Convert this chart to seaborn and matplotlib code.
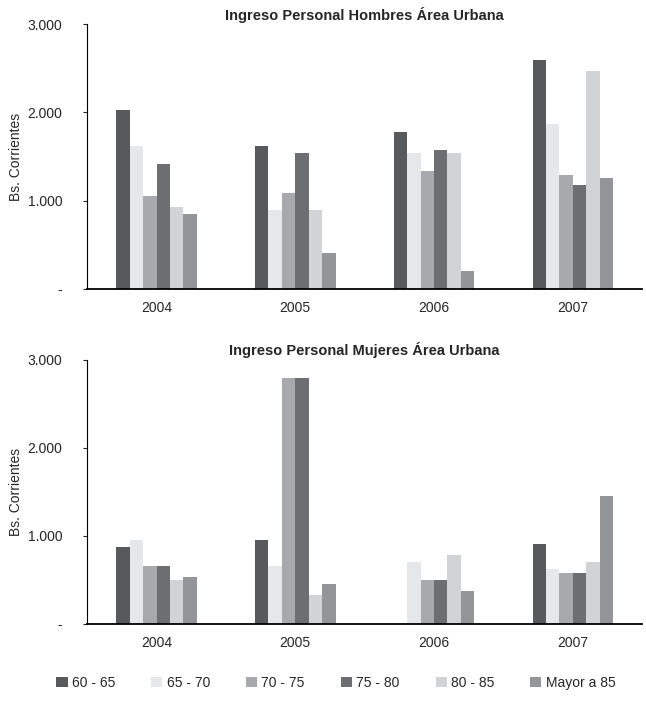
import pandas as pd
import matplotlib
matplotlib.use("Agg")
import matplotlib.pyplot as plt
import seaborn as sns
from matplotlib.ticker import FuncFormatter

# Data (Bs. corrientes)
years = ["2004", "2005", "2006", "2007"]
groups = ["60 - 65", "65 - 70", "70 - 75", "75 - 80", "80 - 85", "Mayor a 85"]

hombres = {
    "60 - 65":    [2030, 1620, 1780, 2595],
    "65 - 70":    [1620, 895, 1540, 1870],
    "70 - 75":    [1050, 1085, 1335, 1290],
    "75 - 80":    [1415, 1540, 1575, 1175],
    "80 - 85":    [930, 895, 1540, 2470],
    "Mayor a 85": [850, 405, 205, 1255],
}
mujeres = {
    "60 - 65":    [875, 955, 0, 910],
    "65 - 70":    [955, 660, 705, 625],
    "70 - 75":    [660, 2795, 500, 580],
    "75 - 80":    [660, 2795, 500, 580],
    "80 - 85":    [500, 330, 785, 705],
    "Mayor a 85": [535, 455, 375, 1455],
}

colors = ["#58595b", "#e6e7e8", "#a7a9ac", "#6d6e71", "#d1d3d4", "#939598"]


def to_long(d):
    rows = []
    for g in groups:
        for y, v in zip(years, d[g]):
            rows.append({"year": y, "group": g, "value": v})
    return pd.DataFrame(rows)


sns.set_theme(style="white")
plt.rcParams["font.family"] = ["Liberation Sans", "DejaVu Sans"]

fig = plt.figure(figsize=(6.46, 7.08), dpi=100)
ax1 = fig.add_axes([0.135, 0.592, 0.859, 0.374])
ax2 = fig.add_axes([0.135, 0.119, 0.859, 0.373])

fmt = FuncFormatter(lambda v, p: "-" if v == 0 else f"{int(v):,}".replace(",", "."))

for ax, d, title in [(ax1, hombres, "Ingreso Personal Hombres Área Urbana"),
                     (ax2, mujeres, "Ingreso Personal Mujeres Área Urbana")]:
    sns.barplot(data=to_long(d), x="year", y="value", hue="group",
                hue_order=groups, palette=colors, width=0.58,
                saturation=1, linewidth=0, ax=ax)
    ax.set_ylim(0, 3000)
    ax.set_xlim(-0.5, 3.5)
    ax.set_yticks([0, 1000, 2000, 3000])
    ax.yaxis.set_major_formatter(fmt)
    ax.set_xlabel("")
    ax.set_ylabel("Bs. Corrientes", fontsize=10, labelpad=3)
    ax.set_title(title, fontsize=10.5, fontweight="bold", pad=3)
    ax.tick_params(axis="y", left=True, length=3, width=0.8, labelsize=10, pad=15)
    ax.tick_params(axis="x", bottom=False, labelsize=10, pad=3)
    for s in ["top", "right"]:
        ax.spines[s].set_visible(False)
    ax.spines["left"].set_color("black")
    ax.spines["bottom"].set_color("black")
    ax.spines["left"].set_linewidth(0.8)
    ax.spines["bottom"].set_linewidth(1.3)
    ax.get_legend().remove()

handles, labels = ax1.get_legend_handles_labels()
fig.legend(handles, labels, loc="lower center", bbox_to_anchor=(0.52, 0.008),
           ncol=6, frameon=False, fontsize=10, handlelength=0.8,
           handleheight=0.8, handletextpad=0.3, columnspacing=2.6)

fig.savefig("out.png", dpi=100)
